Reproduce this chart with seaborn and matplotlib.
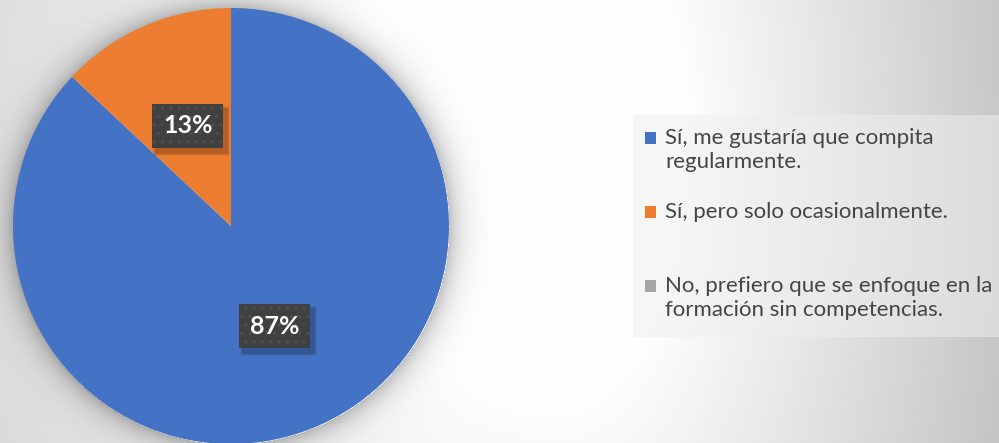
import numpy as np
import matplotlib
matplotlib.use("Agg")
import matplotlib.pyplot as plt
import matplotlib.patches as mpatches
import seaborn as sns

sns.set_theme(style="white")
plt.rcParams['font.family'] = ['Lato', 'DejaVu Sans']

# data
labels = ["Sí, me gustaría que compita\nregularmente.",
          "Sí, pero solo ocasionalmente.",
          "No, prefiero que se enfoque en la\nformación sin competencias."]
shares = [87, 13, 0]
colors = ["#4472C4", "#ED7D31", "#A5A5A5"]

W, H = 999, 443
cx, cy, R = 231, 226, 218   # pie centre / radius in pixels

fig = plt.figure(figsize=(W / 100, H / 100), dpi=100)

# background: off-centre radial gradient plus a soft glow-shadow round the pie
bg = fig.add_axes([0, 0, 1, 1], zorder=0)
yy, xx = np.mgrid[0:H, 0:W].astype(float)
dx = xx - 560
dx = np.where(dx < 0, dx * 0.53, dx)
r = np.sqrt(dx ** 2 + ((yy - 150) * 0.5) ** 2)
drop = 0.172 * np.clip(r - 120, 0, None)
de = np.sqrt((xx - cx) ** 2 + (yy - cy) ** 2) - R
drop += np.where(de > 0, 60 * np.exp(-np.clip(de, 0, None) / 13), 0)
v = np.clip(255 - drop, 0, 255)
bg.imshow(np.dstack([v, v, v]).astype(np.uint8), aspect="auto", extent=[0, W, H, 0])
bg.set_axis_off()

# pie
ax = fig.add_axes([(cx - R) / W, (H - cy - R) / H, 2 * R / W, 2 * R / H], zorder=1)
def pct(p):
    return f"{p:.0f}%" if p > 0.5 else ""
wedges, txts, autotxts = ax.pie(shares, colors=colors, startangle=90, counterclock=False,
                                autopct=pct, pctdistance=0.5, radius=1,
                                wedgeprops=dict(linewidth=0),
                                textprops=dict(color="white", fontsize=18, fontweight="bold"))
ax.set_xlim(-1, 1)
ax.set_ylim(-1, 1)
ax.set_aspect("equal")
ax.set_axis_off()

shown = [t for t in autotxts if t.get_text()]
for t in shown:
    t.set_bbox(dict(boxstyle="square,pad=0.42", fc="#404040", ec="#4e4e4e", lw=0, hatch=".."))
    t.set_zorder(5)

# soft drop shadow under the label boxes (px -> data coords)
fig.canvas.draw()
inv = ax.transData.inverted()
for t in shown:
    bb = t.get_bbox_patch().get_window_extent()
    for k, a in [(6, 0.05), (4, 0.08), (2, 0.12)]:
        x0, y0 = inv.transform((bb.x0 + 4 - k / 2, bb.y0 - 5 - k / 2))
        x1, y1 = inv.transform((bb.x1 + 4 + k / 2, bb.y1 - 5 + k / 2))
        ax.add_patch(mpatches.Rectangle((x0, y0), x1 - x0, y1 - y0, fc="black",
                                        alpha=a, lw=0, zorder=2))

# legend panel
fig.patches.append(mpatches.Rectangle((633 / W, (H - 337) / H), 370 / W, 222 / H,
                                      transform=fig.transFigure, fc="#efefef", alpha=0.5,
                                      lw=0, zorder=1))
marker_top = [132, 206, 280]
for lab, col, top in zip(labels, colors, marker_top):
    fig.patches.append(mpatches.Rectangle((645 / W, (H - top - 12) / H), 11 / W, 12 / H,
                                          transform=fig.transFigure, fc=col, lw=0, zorder=2))
    fig.text(665 / W, (H - top + 4) / H, lab, fontsize=16, color="#454545",
             va="top", ha="left", linespacing=1.25, zorder=3)

fig.savefig("out.png", dpi=100)
